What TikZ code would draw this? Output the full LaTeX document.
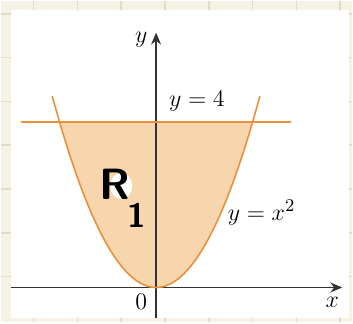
\documentclass[tikz,border=0pt]{standalone}
\usetikzlibrary{arrows.meta}
\definecolor{paper}{HTML}{F6F3E6}
\definecolor{gridline}{HTML}{E0DCC8}
\definecolor{curveorange}{HTML}{E8913A}
\definecolor{regionfill}{HTML}{F8D6AD}
\definecolor{axisgray}{HTML}{333333}
\begin{document}
\begin{tikzpicture}[
    x=0.5pt, y=-0.5pt,
    axis/.style={draw=axisgray, line width=0.7pt, -{Stealth[length=6pt, width=5pt]}},
    curve/.style={draw=curveorange, line width=0.8pt},
    region/.style={fill=regionfill},
    lbl/.style={font=\fontsize{13}{15}\selectfont, inner sep=0pt},
    hand/.style={font=\fontsize{22}{24}\selectfont\sffamily\bfseries, inner sep=0pt}
]

% ===== Paper =====
\fill[paper] (0,0) rectangle (353,323);
\foreach \gx in {33,77,...,341}
    \draw[gridline, line width=0.8pt] (\gx,0) -- (\gx,323);
\foreach \gy in {13,57,...,320}
    \draw[gridline, line width=0.8pt] (0,\gy) -- (353,\gy);
\fill[white] (10,9) rectangle (350,319);

% ===== Region between y=x^2 and y=4 =====
\fill[region] plot[domain=-2:2, samples=80] ({156+48.5*\x},{288-41.6*\x*\x}) -- cycle;

% ===== Axes =====
\coordinate (xstart) at (10,288);
\coordinate (xend)   at (343,288);
\coordinate (ystart) at (156,319);
\coordinate (yend)   at (156,32);
\draw[axis] (xstart) -- (xend);
\draw[axis] (ystart) -- (yend);

% ===== Curves =====
\coordinate (lineleft)  at (20,121.5);
\coordinate (lineright) at (292,121.5);
\draw[curve] (lineleft) -- (lineright);
\draw[curve] plot[domain=-2.15:2.15, samples=80] ({156+48.5*\x},{288-41.6*\x*\x});

% ===== Labels =====
\node[lbl] (ylab)     at (141,39)  {$y$};
\node[lbl] (linelab)  at (197,101) {$y=4$};
\node[lbl] (curvelab) at (262,213) {$y=x^2$};
\node[lbl] (origin)   at (141,302) {$0$};
\node[lbl] (xlab)     at (333,303) {$x$};

% handwritten R_1
\fill[white] (121,186) ellipse (11 and 13);
\node[hand] (regionR)   at (115,184) {R};
\node[hand, font=\fontsize{17}{20}\selectfont\sffamily\bfseries] (regionsub) at (137,216) {1};

\end{tikzpicture}
\end{document}
